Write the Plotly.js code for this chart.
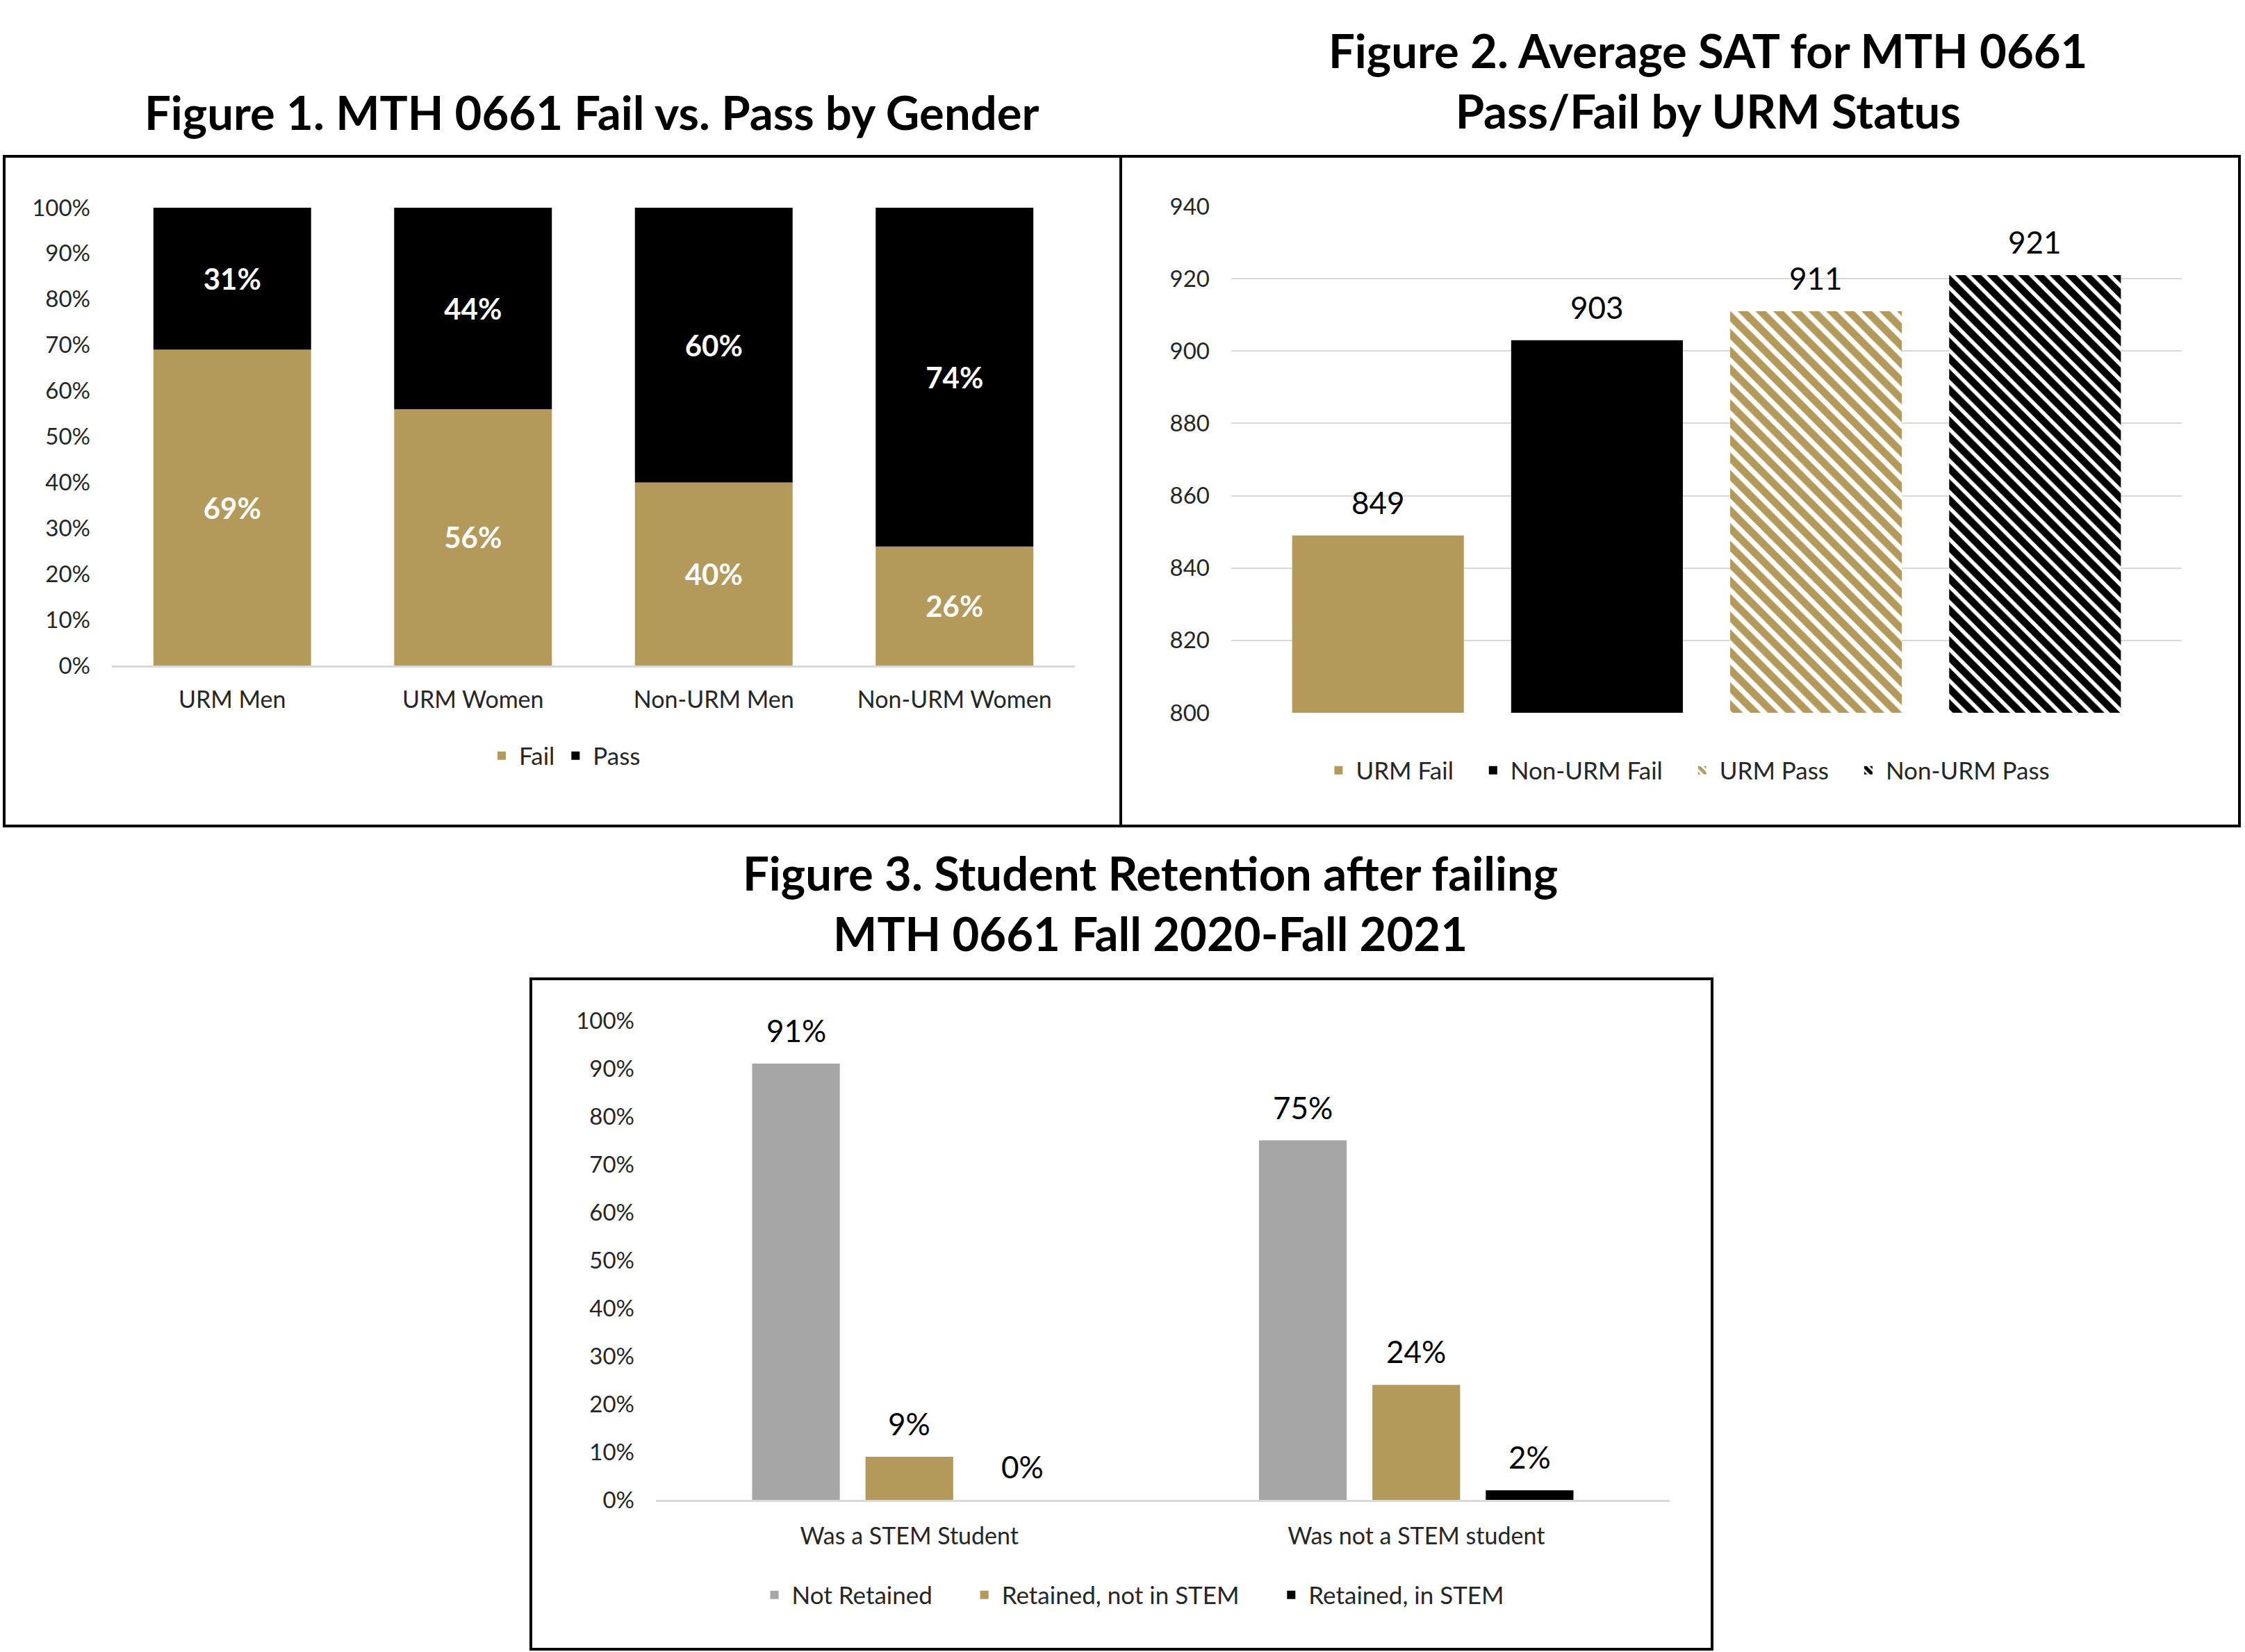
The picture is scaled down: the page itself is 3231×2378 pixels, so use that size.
<!DOCTYPE html>
<html>
<head>
<meta charset="utf-8">
<script src="https://cdn.plot.ly/plotly-3.0.1.min.js"></script>
<style>
html,body{margin:0;padding:0;background:#ffffff;}
#chart{width:3231px;height:2378px;}
</style>
</head>
<body>
<div id="chart"></div>
<script>
// ---------- DATA ----------
const fig1Categories = ['URM Men', 'URM Women', 'Non-URM Men', 'Non-URM Women'];
const fig1Fail = [69, 56, 40, 26];
const fig1Pass = [31, 44, 60, 74];

const fig2Series = ['URM Fail', 'Non-URM Fail', 'URM Pass', 'Non-URM Pass'];
const fig2Sat = [849, 903, 911, 921];

const fig3Categories = ['Was a STEM Student', 'Was not a STEM student'];
const fig3NotRetained = [91, 75];
const fig3RetainedNotStem = [9, 24];
const fig3RetainedStem = [0, 2];

const pctTickVals = [0, 10, 20, 30, 40, 50, 60, 70, 80, 90, 100];
const pctTickText = ['0%', '10%', '20%', '30%', '40%', '50%', '60%', '70%', '80%', '90%', '100%'];
const satTickVals = [800, 820, 840, 860, 880, 900, 920, 940];
const satTickText = ['800', '820', '840', '860', '880', '900', '920', '940'];

// ---------- STYLE ----------
const W = 3231, H = 2378;
const fx = p => p / W;
const fy = p => 1 - p / H;
const GOLD = '#B49A5A';
const BLACK = '#000000';
const GRAY = '#A6A6A6';
const TXT = '#262626';
const FONT = 'Lato, "Open Sans", sans-serif';
const BARGAP = 0.329;
const pct = arr => arr.map(v => v + '%');
const pad = (name, n) => name + '\u00A0'.repeat(n);
const labelFont = {family: FONT, size: 44, color: '#000000'};
const LABEL_SHIFT = 20;

// ---------- TRACES ----------
const traces = [];
const labelAnnotations = [];

// Figure 1 (stacked via base)
traces.push({
  type: 'bar', name: 'Fail', x: fig1Categories, y: fig1Fail,
  xaxis: 'x', yaxis: 'y', legend: 'legend', offsetgroup: 'f1', width: 0.655,
  marker: {color: GOLD, line: {width: 0}},
  text: pct(fig1Fail), textposition: 'inside', insidetextanchor: 'middle',
  constraintext: 'none', textangle: 0,
  textfont: {family: FONT, size: 42, color: '#ffffff', weight: 700}
});
traces.push({
  type: 'bar', name: 'Pass', x: fig1Categories, y: fig1Pass, base: fig1Fail,
  xaxis: 'x', yaxis: 'y', legend: 'legend', offsetgroup: 'f1', width: 0.655,
  marker: {color: BLACK, line: {width: 0}},
  text: pct(fig1Pass), textposition: 'inside', insidetextanchor: 'middle',
  constraintext: 'none', textangle: 0,
  textfont: {family: FONT, size: 42, color: '#ffffff', weight: 700}
});

// Figure 2
const fig2Markers = [
  {color: GOLD, line: {width: 0}},
  {color: BLACK, line: {width: 0}},
  {color: GOLD, line: {width: 0}, pattern: {shape: '\\', fgcolor: GOLD, bgcolor: '#ffffff', size: 18, solidity: 0.6}},
  {color: BLACK, line: {width: 0}, pattern: {shape: '\\', fgcolor: BLACK, bgcolor: '#ffffff', size: 16, solidity: 0.65}}
];
fig2Series.forEach((name, i) => {
  traces.push({
    type: 'bar', name: i < fig2Series.length - 1 ? pad(name, 3) : name,
    x: [name], y: [fig2Sat[i]],
    xaxis: 'x2', yaxis: 'y2', legend: 'legend2', offsetgroup: 'f2', width: 0.784,
    marker: fig2Markers[i]
  });
  labelAnnotations.push({
    xref: 'x2', yref: 'y2', x: name, y: fig2Sat[i], text: String(fig2Sat[i]),
    showarrow: false, xanchor: 'center', yanchor: 'bottom', yshift: LABEL_SHIFT, font: labelFont
  });
});

// Figure 3 (grouped)
const fig3Sets = [
  {name: 'Not Retained', vals: fig3NotRetained, color: GRAY},
  {name: 'Retained, not in STEM', vals: fig3RetainedNotStem, color: GOLD},
  {name: 'Retained, in STEM', vals: fig3RetainedStem, color: BLACK}
];
const slot = (1 - BARGAP) / fig3Sets.length;
fig3Sets.forEach((s, j) => {
  traces.push({
    type: 'bar', name: j < fig3Sets.length - 1 ? pad(s.name, 5) : s.name,
    x: fig3Categories, y: s.vals,
    xaxis: 'x3', yaxis: 'y3', legend: 'legend3', width: 0.173,
    marker: {color: s.color, line: {width: 0}}
  });
  s.vals.forEach((v, k) => {
    labelAnnotations.push({
      xref: 'x3', yref: 'y3', x: k + (j - (fig3Sets.length - 1) / 2) * slot, y: v, text: v + '%',
      showarrow: false, xanchor: 'center', yanchor: 'bottom', yshift: LABEL_SHIFT, font: labelFont
    });
  });
});

// ---------- LAYOUT ----------
const tickFont = {family: FONT, size: 33, color: TXT};
const catFont = {family: FONT, size: 34, color: TXT};
const legendBase = {
  orientation: 'h', xanchor: 'center', yanchor: 'middle',
  font: {family: FONT, size: 35, color: TXT}, bgcolor: 'rgba(0,0,0,0)',
  traceorder: 'normal', itemwidth: 40
};
const titleFont = {family: FONT, size: 67, color: '#000000', weight: 700};

const layout = {
  width: W, height: H,
  margin: {l: 0, r: 0, t: 0, b: 0, pad: 0},
  paper_bgcolor: '#ffffff', plot_bgcolor: 'rgba(0,0,0,0)',
  font: {family: FONT, color: TXT},
  barmode: 'group', bargap: BARGAP, bargroupgap: 0,
  hovermode: false,
  showlegend: true,

  xaxis: {
    domain: [fx(161), fx(1547)], anchor: 'y', type: 'category', range: [-0.5, 3.5],
    showline: true, linecolor: '#D9D9D9', linewidth: 3, ticks: '',
    showgrid: false, zeroline: false, tickfont: catFont, ticklabelstandoff: 17, fixedrange: true
  },
  yaxis: {
    domain: [fy(958), fy(299)], anchor: 'x', range: [0, 100],
    tickmode: 'array', tickvals: pctTickVals, ticktext: pctTickText,
    showgrid: false, zeroline: false, showline: false, ticks: '',
    tickfont: tickFont, ticklabelstandoff: 30, fixedrange: true
  },

  xaxis2: {
    domain: [fx(1772), fx(3140)], anchor: 'y2', type: 'category', range: [-0.67, 3.67],
    showticklabels: false, ticks: '', showgrid: false, zeroline: false, showline: false, fixedrange: true
  },
  yaxis2: {
    domain: [fy(1026), fy(297)], anchor: 'x2', range: [800, 940],
    tickmode: 'array', tickvals: satTickVals, ticktext: satTickText,
    showgrid: true, gridcolor: '#D9D9D9', gridwidth: 2, zeroline: false, showline: false, ticks: '',
    tickfont: tickFont, ticklabelstandoff: 30, fixedrange: true
  },

  xaxis3: {
    domain: [fx(944), fx(2403)], anchor: 'y3', type: 'category', range: [-0.5, 1.5],
    showline: true, linecolor: '#D9D9D9', linewidth: 3, ticks: '',
    showgrid: false, zeroline: false, tickfont: catFont, ticklabelstandoff: 20, fixedrange: true
  },
  yaxis3: {
    domain: [fy(2159), fy(1469)], anchor: 'x3', range: [0, 100],
    tickmode: 'array', tickvals: pctTickVals, ticktext: pctTickText,
    showgrid: false, zeroline: false, showline: false, ticks: '',
    tickfont: tickFont, ticklabelstandoff: 30, fixedrange: true
  },

  legend: Object.assign({}, legendBase, {x: 0.2513, y: fy(1088)}),
  legend2: Object.assign({}, legendBase, {x: 0.7516, y: fy(1109)}),
  legend3: Object.assign({}, legendBase, {x: 0.5045, y: fy(2296)}),

  annotations: [
    {text: 'Figure 1. MTH 0661 Fail vs. Pass by Gender', xref: 'paper', yref: 'paper',
     x: fx(851), y: fy(161), xanchor: 'center', yanchor: 'middle', showarrow: false, font: titleFont},
    {text: 'Figure 2. Average SAT for MTH 0661<br>Pass/Fail by URM Status', xref: 'paper', yref: 'paper',
     x: fx(2458), y: fy(115), xanchor: 'center', yanchor: 'middle', showarrow: false, font: titleFont, align: 'center'},
    {text: 'Figure 3. Student Retention after failing<br>MTH 0661 Fall 2020-Fall 2021', xref: 'paper', yref: 'paper',
     x: fx(1655), y: fy(1299), xanchor: 'center', yanchor: 'middle', showarrow: false, font: titleFont, align: 'center'}
  ].concat(labelAnnotations),

  shapes: [
    {type: 'rect', xref: 'paper', yref: 'paper', x0: fx(6), x1: fx(1613), y0: fy(1189), y1: fy(225),
     line: {color: '#000000', width: 4}, fillcolor: 'rgba(0,0,0,0)'},
    {type: 'rect', xref: 'paper', yref: 'paper', x0: fx(1613), x1: fx(3223), y0: fy(1189), y1: fy(225),
     line: {color: '#000000', width: 4}, fillcolor: 'rgba(0,0,0,0)'},
    {type: 'rect', xref: 'paper', yref: 'paper', x0: fx(764), x1: fx(2464), y0: fy(2374), y1: fy(1409),
     line: {color: '#000000', width: 4}, fillcolor: 'rgba(0,0,0,0)'}
  ]
};

Plotly.newPlot('chart', traces, layout, {staticPlot: true, displayModeBar: false});
</script>
</body>
</html>
